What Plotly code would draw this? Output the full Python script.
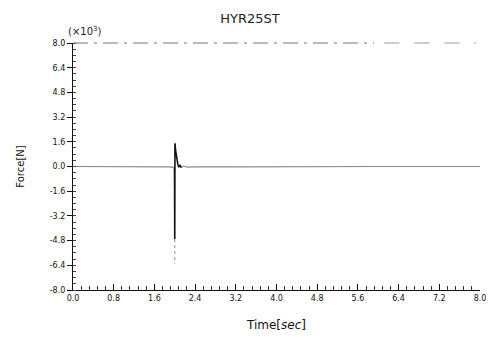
import plotly.graph_objects as go

# Data (force in units of 10^3 N)
time_flat_a = [0.0, 1.2, 1.9, 1.97, 1.995]
force_flat_a = [0.0, 0.0, -0.03, -0.06, -0.1]
time_spike = [1.995, 2.0, 2.0, 2.004, 2.008, 2.015, 2.025, 2.04, 2.06, 2.08, 2.1, 2.13]
force_spike = [-0.1, -4.7, 0.2, 1.5, 1.4, 1.1, 0.8, 0.45, 0.15, -0.05, 0.1, -0.08]
time_flat_b = [2.13, 2.17, 2.25, 2.4, 3.2, 4.5, 6.0, 8.0]
force_flat_b = [-0.08, 0.03, -0.04, -0.02, -0.02, 0.0, 0.0, 0.0]
time_tail = [2.0, 2.0]
force_tail = [-4.7, -6.3]

x_ticks = [0.0, 0.8, 1.6, 2.4, 3.2, 4.0, 4.8, 5.6, 6.4, 7.2, 8.0]
y_ticks = [8.0, 6.4, 4.8, 3.2, 1.6, 0.0, -1.6, -3.2, -4.8, -6.4, -8.0]

fig = go.Figure()
fig.add_trace(go.Scatter(x=time_flat_a, y=force_flat_a, mode="lines",
                         line=dict(color="#8a8a8a", width=1.2), showlegend=False))
fig.add_trace(go.Scatter(x=time_flat_b, y=force_flat_b, mode="lines",
                         line=dict(color="#8a8a8a", width=1.2), showlegend=False))
fig.add_trace(go.Scatter(x=time_spike, y=force_spike, mode="lines",
                         line=dict(color="#111111", width=1.6), showlegend=False))
fig.add_trace(go.Scatter(x=time_tail, y=force_tail, mode="lines",
                         line=dict(color="#888888", width=1, dash="dot"), showlegend=False))

fig.update_layout(
    width=486, height=331,
    margin=dict(l=65, r=14, t=35, b=49),
    paper_bgcolor="white", plot_bgcolor="white",
    font=dict(family="DejaVu Sans", color="#111111"),
    title=dict(text="HYR25ST", x=0.498, xanchor="center", y=0.982, yanchor="top",
               font=dict(size=13, color="#222222")),
    xaxis=dict(range=[0, 8.0], tickvals=x_ticks, ticktext=[f"{v:.1f}" for v in x_ticks],
               showgrid=False, zeroline=False, showline=True, linecolor="#111111", linewidth=1.2,
               ticks="inside", ticklen=6, tickcolor="#111111", automargin=False,
               minor=dict(dtick=0.16, tick0=0, ticks="inside", ticklen=4, tickcolor="#333333"),
               tickfont=dict(size=8, family="DejaVu Sans", color="#111111"),
               title=dict(text="Time[<i>sec</i>]", font=dict(size=12), standoff=18)),
    yaxis=dict(range=[-8.0, 8.0], tickvals=y_ticks, ticktext=[f"{v:.1f}" for v in y_ticks],
               showgrid=False, zeroline=False, showline=True, linecolor="#111111", linewidth=1.2,
               ticks="outside", ticklen=5, tickcolor="#111111", automargin=False,
               minor=dict(dtick=0.4, tick0=0, ticks="inside", ticklen=3, tickcolor="#444444"),
               tickfont=dict(size=8, family="DejaVu Sans", color="#111111"),
               title=dict(text="Force[N]", font=dict(size=10), standoff=23)),
)

fig.add_shape(type="line", xref="paper", yref="paper", x0=0, x1=0.74, y0=1, y1=1,
              line=dict(color="#777777", width=1, dash="longdashdot"))
fig.add_shape(type="line", xref="paper", yref="paper", x0=0.765, x1=0.99, y0=1, y1=1,
              line=dict(color="#999999", width=1, dash="longdash"))
fig.add_annotation(text="(×10<sup>3</sup>)", xref="paper", yref="paper", x=-0.017, y=1.015,
                   xanchor="left", yanchor="bottom", showarrow=False,
                   font=dict(size=10, color="#222222"))

fig.write_html("out.html")
